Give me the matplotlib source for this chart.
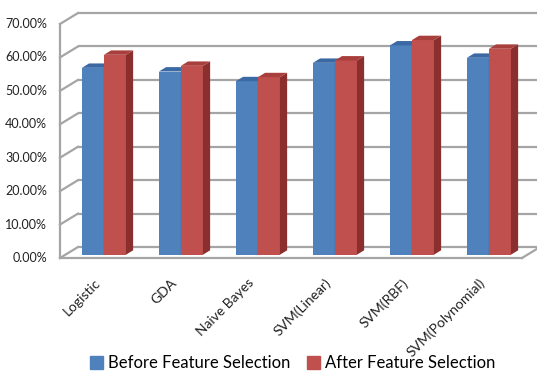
import matplotlib.pyplot as plt
from matplotlib.patches import Polygon, Patch

categories = ["Logistic", "GDA", "Naive Bayes", "SVM(Linear)", "SVM(RBF)", "SVM(Polynomial)"]
before = [55.9, 54.8, 51.9, 57.4, 62.6, 58.9]
after = [59.8, 56.5, 53.1, 58.1, 64.2, 61.6]
yticks = [0, 10, 20, 30, 40, 50, 60, 70]
series = ["Before Feature Selection", "After Feature Selection"]

# face colours: front, side, top
blue = ("#4F81BD", "#2F5687", "#3B69A3")
red = ("#C0504D", "#8A2F2D", "#A83F3C")
grid_col = "#A5A5A5"

plt.rcParams["font.family"] = ["Lato", "DejaVu Sans"]

fig = plt.figure(figsize=(5.37, 3.73), dpi=100)
ax = fig.add_axes([60 / 537, 115 / 373, 462 / 537, 234 / 373])
ax.set_xlim(-0.5, 5.5)
ax.set_ylim(0, 70)
ax.axis("off")

# depth of the box (in data units) and of the bars
dx, dy = 0.234, 3.29
f0, f1 = 0.30, 0.40
ox, oy = f0 * dx, f0 * dy
sx, sy = f1 * dx, f1 * dy
w = 0.286

n = len(categories)
x0, x1 = -0.5, n - 0.5

# walls and floor
for v in yticks:
    ax.plot([x0 + dx, x1 + dx + 0.5], [v + dy, v + dy], color=grid_col, lw=1.6,
            clip_on=False, zorder=1, solid_capstyle="butt")
    ax.plot([x0, x0 + dx], [v, v + dy], color=grid_col, lw=1.6, clip_on=False, zorder=1)
ax.plot([x0, x0], [0, yticks[-1]], color=grid_col, lw=1.6, clip_on=False, zorder=1)
ax.plot([x0, x1], [0, 0], color=grid_col, lw=1.6, clip_on=False, zorder=1)
ax.plot([x1, x1 + dx], [0, dy], color=grid_col, lw=1.6, clip_on=False, zorder=1)

for v in yticks:
    ax.text(x0 - 0.17, v, f"{v:.2f}%", ha="right", va="center", fontsize=9, color="#222222")


def bar3d(xl, val, cols, z):
    ax.bar(xl + ox, val, bottom=oy, width=w, align="edge", color=cols[0],
           zorder=z, linewidth=0, clip_on=False)
    xr = xl + ox + w
    side = [(xr, oy), (xr + sx, oy + sy), (xr + sx, val + oy + sy), (xr, val + oy)]
    top = [(xl + ox, val + oy), (xr, val + oy), (xr + sx, val + oy + sy),
           (xl + ox + sx, val + oy + sy)]
    ax.add_patch(Polygon(side, closed=True, color=cols[1], lw=0, zorder=z, clip_on=False))
    ax.add_patch(Polygon(top, closed=True, color=cols[2], lw=0, zorder=z, clip_on=False))


for i in range(n):
    bar3d(i - w, before[i], blue, 3 + 2 * i)
    bar3d(i, after[i], red, 4 + 2 * i)

for i, name in enumerate(categories):
    ax.text(i - 0.06, -5.5, name, rotation=45, ha="right", va="top",
            rotation_mode="anchor", fontsize=10, color="#222222")

handles = [Patch(color=blue[0]), Patch(color=red[0])]
fig.legend(handles, series, loc="lower center", bbox_to_anchor=(0.545, -0.035), ncol=2,
           frameon=False, fontsize=12, handlelength=0.8, handleheight=0.8,
           handletextpad=0.3, columnspacing=1.0)

fig.savefig("out.png", dpi=100)
